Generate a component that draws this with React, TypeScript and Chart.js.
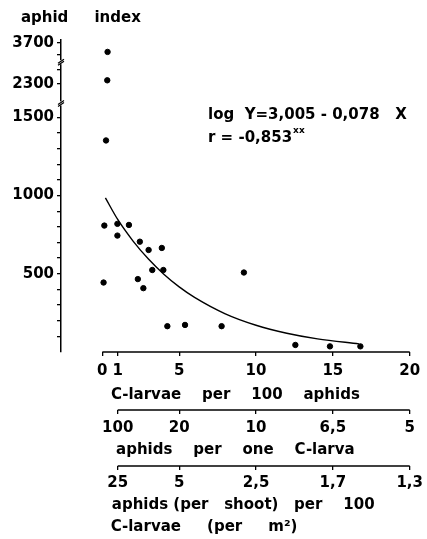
import React, { useEffect, useRef } from 'react';
import { Chart, registerables } from 'chart.js';

Chart.register(...registerables);

// Observed points: C-larvae per 100 aphids (x) vs aphid index (y)
const obsX = [0.13, 0.98, 0.98, 1.73, 2.44, 3.01, 3.87, 3.25, 3.97, 0.08, 2.31, 2.67, 9.21, 4.23, 5.38, 7.76, 12.56, 14.81, 16.79, 0.34, 0.32, 0.24];
const obsY = [808, 819, 744, 812, 705, 652, 665, 524, 524, 444, 466, 408, 508, 165, 173, 165, 45, 36, 36, 3400, 2430, 1352];

// Fitted curve
const fitX = [0.2, 1, 2, 3, 4, 5, 6, 8, 10, 12, 14, 16.7];
const fitY = [985, 847, 709, 594, 497, 416, 349, 244, 171, 120, 84, 52];

// Axes
const axis1Ticks = [0, 1, 5, 10, 15, 20];
const axis1Labels = ['0', '1', '5', '10', '15', '20'];
const innerTicks = [1, 5, 10, 15, 20];
const axis2Labels = ['100', '20', '10', '6,5', '5'];
const axis3Labels = ['25', '5', '2,5', '1,7', '1,3'];
const yTicks = [100, 200, 300, 400, 500, 600, 700, 800, 900, 1000, 1100, 1200, 1300, 1400, 1500, 2300, 2800, 3300, 3700];
const yLabelled = [500, 1000, 1500, 2300, 3700];
const yBreaks = [1835, 3050];

// broken y axis: real value -> display value on a linear scale
const SEG_BASE = 1712;
const SEG_TOP = 1974;
function toDisplay(v: number): number {
  if (v <= 1500) return v;
  if (v >= 2300) return SEG_BASE + ((v - 2300) * (SEG_TOP - SEG_BASE)) / 1400;
  return 1500 + ((v - 1500) * (SEG_BASE - 1500)) / 800;
}

const FONT = "'DejaVu Sans', sans-serif";
const font15 = { family: FONT, size: 15, weight: 'bold' as const };

const overlay = {
  id: 'overlay',
  afterDraw(chart: any) {
    const ctx = chart.ctx;
    ctx.save();
    ctx.strokeStyle = '#000';
    ctx.lineWidth = 1.5;
    const lines: [string, number, number][] = [['x1', 0, 20], ['x2', 1, 20], ['x3', 1, 20]];
    for (const [id, a, b] of lines) {
      const s = chart.scales[id];
      ctx.beginPath();
      ctx.moveTo(s.getPixelForValue(a), s.top);
      ctx.lineTo(s.getPixelForValue(b), s.top);
      ctx.stroke();
    }
    const ys = chart.scales.y;
    const xa = ys.right;
    for (const bv of yBreaks) {
      const py = ys.getPixelForValue(toDisplay(bv));
      ctx.fillStyle = '#fff';
      ctx.fillRect(xa - 3, py - 2, 6, 4);
      ctx.lineWidth = 1.2;
      ctx.beginPath();
      ctx.moveTo(xa - 3, py + 1);
      ctx.lineTo(xa + 3, py - 3);
      ctx.moveTo(xa - 3, py + 3);
      ctx.lineTo(xa + 3, py - 1);
      ctx.stroke();
    }
    // regression annotation
    ctx.fillStyle = '#000';
    ctx.textBaseline = 'middle';
    ctx.textAlign = 'left';
    ctx.font = `bold 15px ${FONT}`;
    ctx.fillText('log  Y=3,005 - 0,078   X', 208, 115);
    ctx.fillText('r = -0,853', 208, 138);
    const w = ctx.measureText('r = -0,853').width;
    ctx.font = `bold 9px ${FONT}`;
    ctx.fillText('xx', 208 + w + 1, 131);
    ctx.restore();
  },
};

function xScale(weight: number, ticks: number[], labels: string[], title: any, height: number, pad: number) {
  return {
    type: 'linear',
    position: 'bottom',
    weight,
    min: -2.69,
    max: 20,
    afterBuildTicks: (s: any) => {
      s.ticks = ticks.map((v) => ({ value: v }));
    },
    afterFit: (s: any) => {
      s.height = height;
    },
    ticks: {
      autoSkip: false,
      maxRotation: 0,
      minRotation: 0,
      color: '#000',
      font: font15,
      padding: pad,
      callback: (_v: any, i: number) => labels[i],
    },
    grid: {
      drawOnChartArea: false,
      drawTicks: true,
      tickLength: 4,
      color: '#000',
      lineWidth: 1.3,
    },
    border: { display: false },
    title,
  };
}

export default function App() {
  const ref = useRef<HTMLCanvasElement | null>(null);
  useEffect(() => {
    document.body.style.margin = '0';
    if (!ref.current) return;
    const chart = new Chart(ref.current, {
      type: 'scatter',
      data: {
        datasets: [
          {
            data: obsX.map((x, i) => ({ x, y: toDisplay(obsY[i]) })),
            backgroundColor: '#000',
            borderColor: '#000',
            pointRadius: 2.7,
            xAxisID: 'x1',
            yAxisID: 'y',
          },
          {
            type: 'line',
            data: fitX.map((x, i) => ({ x, y: toDisplay(fitY[i]) })),
            borderColor: '#000',
            borderWidth: 1.4,
            pointRadius: 0,
            fill: false,
            cubicInterpolationMode: 'monotone',
            xAxisID: 'x1',
            yAxisID: 'y',
          } as any,
        ],
      },
      options: {
        animation: false,
        responsive: true,
        maintainAspectRatio: false,
        layout: { padding: { left: 0, right: 12, top: 0, bottom: 0 } },
        plugins: {
          legend: { display: false },
          tooltip: { enabled: false },
          title: {
            display: true,
            text: '    aphid     index',
            align: 'start',
            color: '#000',
            font: font15,
            padding: { top: 9, bottom: 13 },
          },
        },
        scales: {
          y: {
            type: 'linear',
            position: 'left',
            min: 0,
            max: 1994,
            afterBuildTicks: (s: any) => {
              s.ticks = yTicks.map((v) => ({ value: toDisplay(v) }));
            },
            afterFit: (s: any) => {
              s.width = 61;
            },
            ticks: {
              autoSkip: false,
              color: '#000',
              font: font15,
              padding: 3,
              callback: (_v: any, i: number) => (yLabelled.includes(yTicks[i]) ? String(yTicks[i]) : ''),
            },
            grid: {
              drawOnChartArea: false,
              drawTicks: true,
              tickLength: 4,
              color: '#000',
              lineWidth: 1.3,
            },
            border: { display: true, color: '#000', width: 1.5 },
          },
          x1: xScale(0, axis1Ticks, axis1Labels, {
            display: true,
            text: 'C-larvae    per    100    aphids',
            color: '#000',
            font: font15,
            padding: { top: 0, bottom: 6 },
          }, 58, 6),
          x2: xScale(1, innerTicks, axis2Labels, {
            display: true,
            text: 'aphids    per    one    C-larva',
            color: '#000',
            font: font15,
            padding: { top: 0, bottom: 7 },
          }, 56, 5),
          x3: xScale(2, innerTicks, axis3Labels, {
            display: true,
            text: ['   aphids (per   shoot)   per    100', 'C-larvae     (per     m²)            '],
            color: '#000',
            font: { ...font15, lineHeight: 22 / 15 },
            padding: { top: 0, bottom: 1 },
          }, 73, 4),
        } as any,
      },
      plugins: [overlay],
    } as any);
    return () => chart.destroy();
  }, []);
  return (
    <div style={{ position: 'relative', width: 427, height: 539 }}>
      <canvas ref={ref} />
    </div>
  );
}
